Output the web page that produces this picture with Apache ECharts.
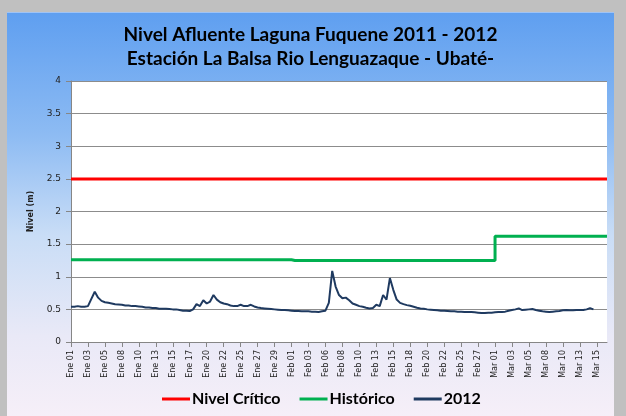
<!DOCTYPE html>
<html>
<head>
<meta charset="utf-8">
<script src="https://cdn.jsdelivr.net/npm/echarts@6/dist/echarts.min.js"></script>
<style>
  html, body { margin: 0; padding: 0; background: #c0c0c0; }
  #frame {
    position: absolute; left: 7px; top: 12px; width: 607px; height: 404px;
    background: linear-gradient(to bottom, #5f9ff0 0%, #8dbbf3 30%, #c9ddf6 55%, #e9e9f7 80%, #f6eff8 100%);
    border-top: 1px solid #9fc3f5;
  }
  #chart { width: 607px; height: 404px; }
</style>
</head>
<body>
<div id="frame"><div id="chart"></div></div>
<script>
// tick labels shown on the x axis, one every 5 samples
const tickLabels = ['Ene 01', 'Ene 03', 'Ene 05', 'Ene 08', 'Ene 10', 'Ene 13', 'Ene 15', 'Ene 17',
  'Ene 20', 'Ene 22', 'Ene 25', 'Ene 27', 'Ene 29', 'Feb 01', 'Feb 03', 'Feb 06', 'Feb 08', 'Feb 10',
  'Feb 13', 'Feb 15', 'Feb 18', 'Feb 20', 'Feb 22', 'Feb 25', 'Feb 27', 'Mar 01', 'Mar 03', 'Mar 05',
  'Mar 08', 'Mar 10', 'Mar 13', 'Mar 15'];
const samplesPerTick = 5;
const totalSlots = 159;

// nivel critico (m)
const nivelCritico = 2.5;
// historico mensual (m)
const historicoMes = { Ene: 1.26, Feb: 1.25, Mar: 1.62 };

// nivel 2012 (m)
const nivel2012 = [
  0.54, 0.54, 0.55, 0.54, 0.54, 0.55, 0.66, 0.77, 0.68, 0.63,
  0.61, 0.60, 0.59, 0.58, 0.575, 0.57, 0.56, 0.56, 0.55, 0.55,
  0.545, 0.54, 0.53, 0.53, 0.52, 0.52, 0.51, 0.51, 0.51, 0.505,
  0.50, 0.50, 0.49, 0.48, 0.48, 0.475, 0.50, 0.58, 0.55, 0.64,
  0.59, 0.62, 0.72, 0.65, 0.61, 0.59, 0.58, 0.56, 0.55, 0.55,
  0.57, 0.55, 0.55, 0.57, 0.545, 0.53, 0.52, 0.515, 0.51, 0.505,
  0.50, 0.495, 0.49, 0.49, 0.485, 0.48, 0.475, 0.475, 0.47, 0.47,
  0.47, 0.465, 0.465, 0.46, 0.47, 0.48, 0.60, 1.09, 0.85, 0.72,
  0.67, 0.68, 0.64, 0.59, 0.57, 0.55, 0.54, 0.525, 0.515, 0.52,
  0.57, 0.55, 0.72, 0.65, 0.98, 0.80, 0.65, 0.60, 0.58, 0.565,
  0.555, 0.54, 0.525, 0.515, 0.51, 0.50, 0.495, 0.49, 0.485, 0.48,
  0.48, 0.475, 0.47, 0.47, 0.465, 0.465, 0.46, 0.46, 0.46, 0.455,
  0.45, 0.445, 0.445, 0.45, 0.45, 0.455, 0.46, 0.46, 0.465, 0.48,
  0.49, 0.50, 0.515, 0.49, 0.495, 0.50, 0.505, 0.49, 0.48, 0.47,
  0.465, 0.46, 0.465, 0.47, 0.475, 0.485, 0.49, 0.485, 0.485, 0.49,
  0.49, 0.49, 0.50, 0.52, 0.50
];

// build categories: every slot belongs to the preceding tick label
const categories = [];
for (let i = 0; i < totalSlots; i++) {
  const t = tickLabels[Math.floor(i / samplesPerTick)];
  const j = i % samplesPerTick;
  categories.push(j === 0 ? t : t + ' ·' + j);
}
const critico = categories.map(() => nivelCritico);
const historico = categories.map(c => historicoMes[c.slice(0, 3)]);

var myChart = echarts.init(document.getElementById('chart'));

myChart.setOption({
  animation: false,
  title: {
    text: 'Nivel Afluente Laguna Fuquene 2011 - 2012\nEstación La Balsa Rio Lenguazaque - Ubaté-',
    left: 'center',
    top: 5,
    textStyle: { fontFamily: 'Lato', fontWeight: 'bold', fontSize: 19, lineHeight: 24, color: '#000' }
  },
  legend: {
    bottom: 5,
    left: 150,
    icon: 'rect',
    itemWidth: 28,
    itemHeight: 3,
    itemGap: 19,
    textStyle: { fontFamily: 'Lato', fontWeight: 'bold', fontSize: 16, color: '#000', padding: [0, 0, 0, -3] },
    data: ['Nivel Crítico', 'Histórico', '2012']
  },
  grid: { left: 64, right: 7, top: 68, bottom: 75, show: true, backgroundColor: '#ffffff', borderWidth: 0 },
  xAxis: {
    type: 'category',
    boundaryGap: false,
    data: categories,
    axisLine: { lineStyle: { color: '#868686' } },
    axisTick: { interval: samplesPerTick - 1, length: 5, lineStyle: { color: '#868686' } },
    axisLabel: {
      interval: samplesPerTick - 1,
      rotate: 90,
      margin: 8,
      fontFamily: 'DejaVu Sans',
      fontSize: 8,
      color: '#222'
    },
    splitLine: { show: false }
  },
  yAxis: {
    type: 'value',
    min: 0,
    max: 4,
    interval: 0.5,
    name: 'Nivel (m)',
    nameLocation: 'middle',
    nameGap: 36,
    nameTextStyle: { fontFamily: 'DejaVu Sans', fontWeight: 'bold', fontSize: 8, color: '#222' },
    axisLine: { show: true, lineStyle: { color: '#868686' } },
    axisTick: { show: true, length: 5, lineStyle: { color: '#868686' } },
    axisLabel: { margin: 10, fontFamily: 'DejaVu Sans', fontSize: 9, color: '#222' },
    splitLine: { lineStyle: { color: '#8c8c8c', width: 1 } }
  },
  series: [
    {
      name: 'Nivel Crítico',
      type: 'line',
      data: critico,
      symbol: 'none',
      lineStyle: { color: '#ff0000', width: 3 },
      itemStyle: { color: '#ff0000' }
    },
    {
      name: 'Histórico',
      type: 'line',
      data: historico,
      step: 'end',
      symbol: 'none',
      lineStyle: { color: '#00b050', width: 3 },
      itemStyle: { color: '#00b050' }
    },
    {
      name: '2012',
      type: 'line',
      data: nivel2012,
      symbol: 'none',
      lineStyle: { color: '#1f3a60', width: 2 },
      itemStyle: { color: '#1f3a60' }
    }
  ]
});
</script>
</body>
</html>
